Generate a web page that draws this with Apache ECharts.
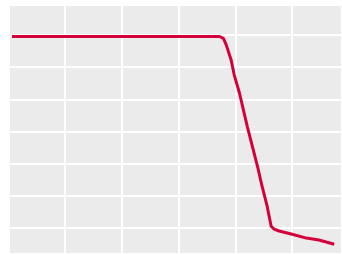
<!DOCTYPE html>
<html>
<head>
<meta charset="utf-8">
<script src="https://cdn.jsdelivr.net/npm/echarts@6/dist/echarts.min.js"></script>
<style>
  html, body { margin: 0; padding: 0; background: #fff; }
  #chart { width: 342px; height: 254px; }
</style>
</head>
<body>
<div id="chart"></div>
<script>
// 曲线数据
const xValues = [0.07, 3.72, 3.79, 3.84, 3.925, 3.98, 4.07, 4.21, 4.30, 4.39, 4.47, 4.56, 4.63, 4.68, 4.77, 5.0, 5.25, 5.47, 5.74];
const yValues = [6.95, 6.95, 6.89, 6.69, 6.23, 5.76, 5.21, 4.16, 3.54, 2.92, 2.30, 1.68, 1.06, 0.97, 0.91, 0.81, 0.69, 0.63, 0.50];

let chart = echarts.init(document.getElementById('chart'));
let lineData = xValues.map((x, i) => [x, yValues[i]]);

let option = {
  animation: false,
  grid: {
    left: 9,
    right: -1,
    top: 5,
    bottom: -1,
    show: true,
    backgroundColor: '#ebebeb',
    borderWidth: 0
  },
  xAxis: {
    type: 'value',
    min: 0.0175,
    max: 5.877,
    splitNumber: 5,
    axisLine: { show: false },
    axisTick: { show: false },
    axisLabel: { show: false },
    splitLine: {
      show: true,
      lineStyle: { color: '#ffffff', width: 2 }
    }
  },
  yAxis: {
    type: 'value',
    min: 0.196,
    max: 7.928,
    splitNumber: 7,
    axisLine: { show: false },
    axisTick: { show: false },
    axisLabel: { show: false },
    splitLine: {
      show: true,
      lineStyle: { color: '#ffffff', width: 2 }
    }
  },
  series: [
    {
      type: 'line',
      data: lineData,
      showSymbol: false,
      symbol: 'none',
      lineStyle: { color: '#d4003a', width: 3 }
    }
  ]
};
chart.setOption(option);
</script>
</body>
</html>
